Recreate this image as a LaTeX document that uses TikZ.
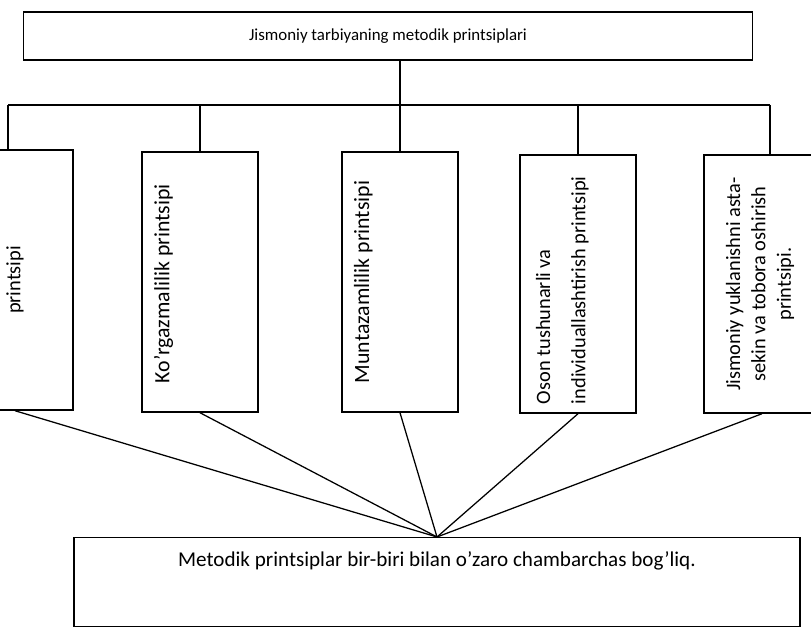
\documentclass[tikz,border=0pt]{standalone}
\usepackage{fontspec}
\setmainfont{Carlito}
\usetikzlibrary{positioning}

\tikzset{
  box/.style={draw, line width=1pt, inner sep=0pt, minimum width=2.9cm, minimum height=6.5cm},
  wire/.style={line width=0.9pt}
}
% upright text inside a tall box
\newcommand{\uptext}[2][\raggedright]{\rotatebox{90}{\parbox[c][2.3cm][t]{6cm}{\fontsize{14.5}{18}\selectfont #1 #2}}}

\begin{document}
\begin{tikzpicture}[x=0.025cm, y=-0.025cm]
\clip (0,0) rectangle (811,629);

\node[draw, line width=1pt, minimum width=18.225cm, minimum height=1.2cm, font=\fontsize{12}{14}\selectfont]
    (top) at (388,36) {Jismoniy tarbiyaning metodik printsiplari};

\node[box] (p1) at (15,280) {\rotatebox{90}{\fontsize{14.5}{16}\selectfont printsipi}};
\node[box] (p2) at (200,282) {\uptext[\raggedright\fontsize{15.5}{18}\selectfont\hspace*{0.35cm}]{Ko'rgazmalilik printsipi}};
\node[box] (p3) at (400,282) {\uptext[\raggedright\fontsize{15.5}{18}\selectfont\hspace*{0.35cm}]{Muntazamlilik printsipi}};
\node[box, minimum height=6.45cm] (p4) at (578,284)
    {\uptext[\raggedright\fontsize{14.5}{25}\selectfont\vspace*{0.1cm}]{Oson tushunarli va individuallashtirish printsipi}};
\node[box, minimum height=6.45cm] (p5) at (762,284)
    {\uptext[\centering\vspace*{0.25cm}]{Jismoniy yuklanishni asta-\\ sekin va tobora oshirish\\ printsipi.}};

\node[draw, line width=1pt, anchor=north, minimum width=18.15cm, inner ysep=0.2cm,
    text height=0.525cm, text depth=1.3cm, font=\fontsize{15}{17}\selectfont]
    (link) at (437,537) {Metodik printsiplar bir-biri bilan o'zaro chambarchas bog'liq.};

% tree of lines
\coordinate (busL) at (8,105);
\coordinate (busR) at (770,105);
\draw[wire] (p3.north) -- (p3.north |- top.south);
\draw[wire] (busL) -- (busR);
\draw[wire] (busL) -- (busL |- p1.north);
\draw[wire] (busR) -- (busR |- p5.north);
\foreach \n in {2,4}
  \draw[wire] (p\n.north) -- (p\n.north |- busL);

% all principles meet in one point
\foreach \n in {1,...,5}
  \draw[wire] (p\n.south) -- (link.north);
\end{tikzpicture}
\end{document}
